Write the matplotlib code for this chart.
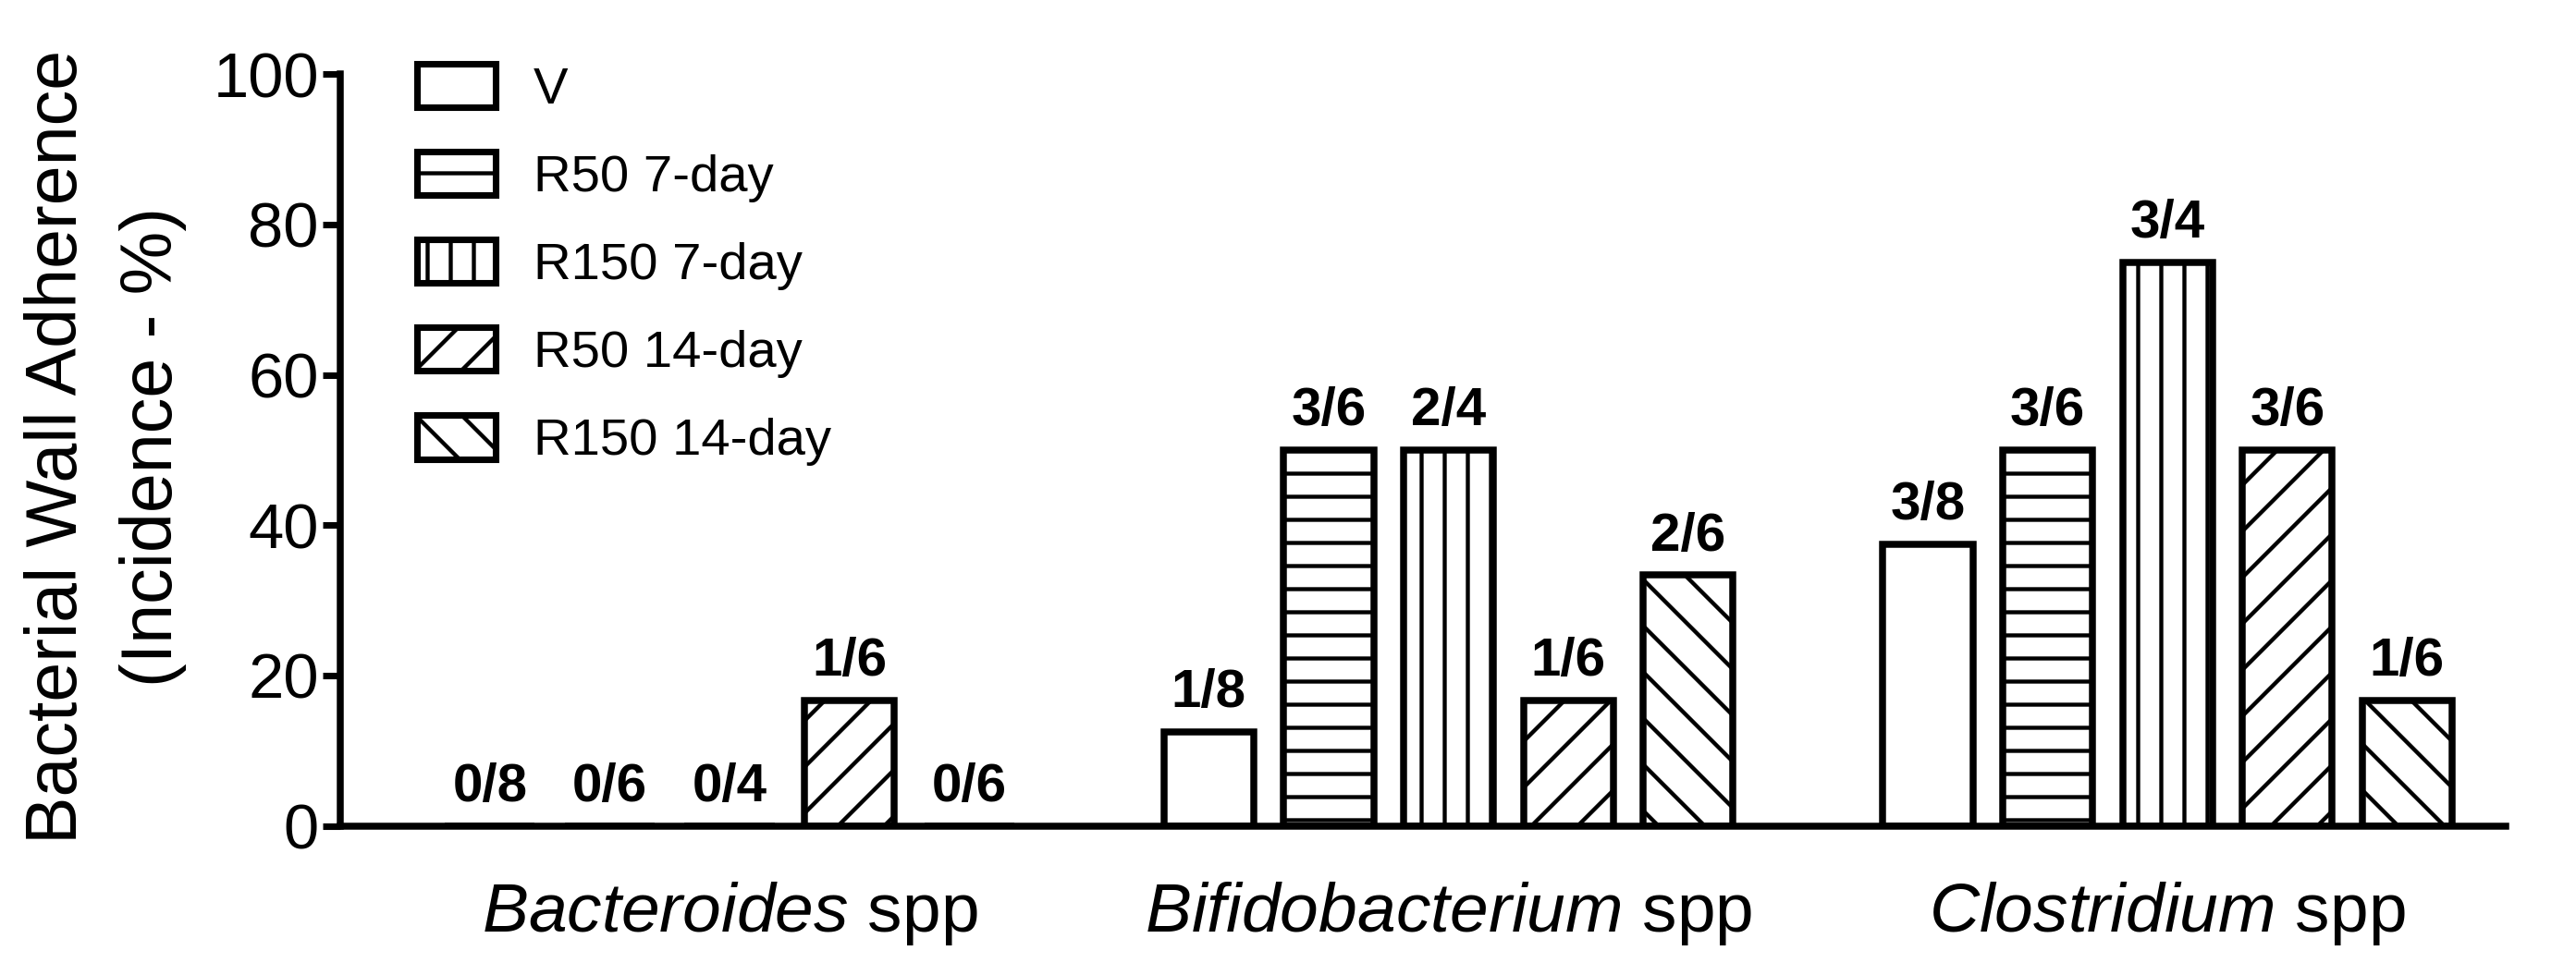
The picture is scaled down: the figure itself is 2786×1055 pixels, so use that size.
import numpy as np
import matplotlib
matplotlib.use("Agg")
import matplotlib.pyplot as plt
from matplotlib import font_manager
from matplotlib.patches import Patch

# data
groups = ["Bacteroides", "Bifidobacterium", "Clostridium"]
series = ["V", "R50 7-day", "R150 7-day", "R50 14-day", "R150 14-day"]
hatches = ["", "-", "|", "/", "\\"]
incidence = [
    [0, 0, 0, 100 / 6, 0],
    [12.5, 50, 50, 100 / 6, 100 / 3],
    [37.5, 50, 75, 50, 100 / 6],
]
counts = [
    ["0/8", "0/6", "0/4", "1/6", "0/6"],
    ["1/8", "3/6", "2/4", "1/6", "2/6"],
    ["3/8", "3/6", "3/4", "3/6", "1/6"],
]

names = {f.name for f in font_manager.fontManager.ttflist}
narrow = "Liberation Sans Narrow" if "Liberation Sans Narrow" in names else "Liberation Sans"

plt.rcParams['font.family'] = narrow
plt.rcParams['mathtext.fontset'] = 'custom'
plt.rcParams['mathtext.it'] = narrow + ':italic'
plt.rcParams['mathtext.rm'] = narrow
plt.rcParams['hatch.linewidth'] = 2.1

fig = plt.figure(figsize=(2786 / 150, 1055 / 150), dpi=150)
ax = fig.add_axes([0.132, 0.153, 0.8406, 0.771])

width = 0.75
for g, grp in enumerate(groups):
    for i, s in enumerate(series):
        x = g * 6 + i
        v = incidence[g][i]
        ax.bar(x, v, width, facecolor="white", edgecolor="black",
               linewidth=3.6, hatch=hatches[i], zorder=2)
        ax.text(x, v + 1.8, counts[g][i], ha="center", va="bottom",
                fontsize=28, fontweight="bold")

ax.set_xlim(-1.25, 16.82)
ax.set_ylim(0, 100)
ax.set_yticks([0, 20, 40, 60, 80, 100])
ax.tick_params(axis="y", labelsize=33, width=3.4, length=9, pad=2)
ax.set_xticks([g * 6 + 2 for g in range(3)])
ax.set_xticklabels([r"$\mathit{%s}$ spp" % g for g in groups], fontsize=36)
ax.tick_params(axis="x", length=0, pad=28)
for sp in ["top", "right"]:
    ax.spines[sp].set_visible(False)
for sp in ["left", "bottom"]:
    ax.spines[sp].set_linewidth(3.6)

fig.text(0.0225, 0.542, "Bacterial Wall Adherence", rotation=90, ha="center",
         va="center", fontsize=37, family="Liberation Sans")
fig.text(0.0595, 0.542, "(Incidence - %)", rotation=90, ha="center",
         va="center", fontsize=37, family="Liberation Sans")

handles = [Patch(facecolor="white", edgecolor="black", linewidth=3.4, hatch=h)
           for h in hatches]
ax.legend(handles, series, loc="upper left", bbox_to_anchor=(0.014, 1.076),
          frameon=False, fontsize=27, handlelength=1.5, handleheight=0.92,
          labelspacing=0.71, handletextpad=0.73)

fig.savefig("out.png", dpi=150)
